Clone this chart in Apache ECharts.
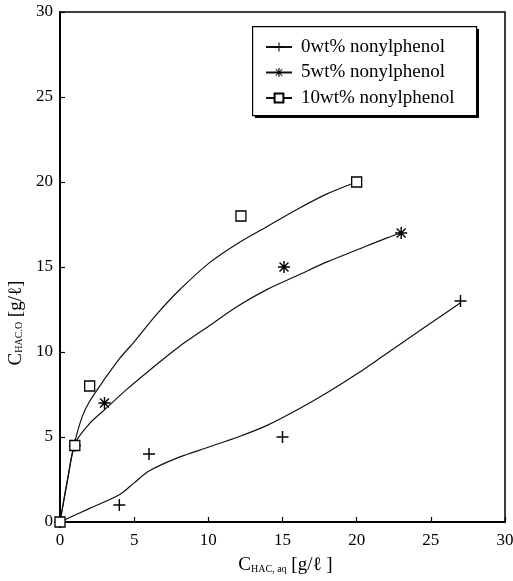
<!DOCTYPE html>
<html>
<head>
<meta charset="utf-8">
<script src="https://cdn.jsdelivr.net/npm/echarts@6/dist/echarts.min.js"></script>
<style>
  html, body { margin: 0; padding: 0; background: #fff; overflow: hidden; }
  #chart { width: 513px; height: 581px; }
</style>
</head>
<body>
<div id="chart"></div>
<script>
// Series names
const seriesNames = ['0wt% nonylphenol', '5wt% nonylphenol', '10wt% nonylphenol'];

// Measured points [C_HAC,aq, C_HAC,O]
const points0 = [[0, 0], [4, 1], [6, 4], [15, 5], [27, 13]];
const points5 = [[0, 0], [1, 4.5], [3, 7], [15.1, 15], [23, 17]];
const points10 = [[0, 0], [1, 4.5], [2, 8], [12.2, 18], [20, 20]];

// Fitted trend curves
const curve0 = [[0, 0], [2, 0.8], [4, 1.6], [5, 2.3], [6, 3.0], [8, 3.8], [10, 4.4], [12, 5.0],
  [14, 5.7], [16, 6.6], [18, 7.6], [20, 8.7], [22, 9.9], [24, 11.1], [26, 12.3], [27, 12.9]];
const curve5 = [[0, 0], [0.5, 2.4], [1, 4.6], [2, 5.8], [3, 6.6], [4.5, 7.8], [6, 8.9], [8, 10.3],
  [10, 11.5], [12, 12.7], [14, 13.7], [16, 14.5], [18, 15.3], [20, 16.0], [22, 16.7], [23, 17]];
const curve10 = [[0, 0], [0.5, 2.5], [1, 4.7], [1.5, 6.2], [2, 7.1], [3, 8.4], [4, 9.6], [5, 10.6],
  [6.5, 12.2], [8, 13.6], [10, 15.2], [12, 16.4], [14, 17.4], [16, 18.4], [18, 19.3], [20, 20]];

// Axis ticks
const xTicks = [0, 5, 10, 15, 20, 25, 30];
const yTicks = [0, 5, 10, 15, 20, 25, 30];

const SERIF = '"Liberation Serif", "DejaVu Serif", serif';

const plusSymbol = 'path://M4.4,0H5.6V10H4.4Z M0,4.4H10V5.6H0Z';
const starSymbol = 'path://M4.4,0H5.6V10H4.4Z M0,4.4H10V5.6H0Z M0.9,1.7L1.7,0.9L9.1,8.3L8.3,9.1Z M8.3,0.9L9.1,1.7L1.7,9.1L0.9,8.3Z';

const groups = [
  { name: seriesNames[0], pts: points0, curve: curve0, symbol: plusSymbol, size: 12,
    item: { color: '#000', opacity: 1 } },
  { name: seriesNames[1], pts: points5, curve: curve5, symbol: starSymbol, size: 12,
    item: { color: '#000', opacity: 1 } },
  { name: seriesNames[2], pts: points10, curve: curve10, symbol: 'rect', size: 10,
    item: { color: '#fff', borderColor: '#000', borderWidth: 1.3, opacity: 1 } }
];

const series = [];
groups.forEach(g => {
  series.push({
    name: g.name, type: 'line', data: g.curve, smooth: 0.3,
    symbol: g.symbol, symbolSize: g.size, showSymbol: false,
    itemStyle: g.item,
    lineStyle: { color: '#111', width: 1.2 },
    emphasis: { disabled: true }, silent: true, z: 2
  });
});
groups.forEach(g => {
  series.push({
    name: g.name, type: 'scatter', data: g.pts,
    symbol: g.symbol, symbolSize: g.size,
    itemStyle: g.item, z: 3, silent: true
  });
});

const chart = echarts.init(document.getElementById('chart'), null, { renderer: 'canvas' });
chart.setOption({
  animation: false,
  backgroundColor: '#fff',
  grid: {
    left: 60, right: 8, top: 12, bottom: 59,
    containLabel: false, outerBoundsMode: 'none',
    show: true, borderColor: '#000', borderWidth: 1.5
  },
  // legend frame with a drop shadow on its lower right
  graphic: [
    { type: 'rect', left: 255, top: 29, z: 10, silent: true,
      shape: { width: 224, height: 89 }, style: { fill: '#000' } },
    { type: 'rect', left: 252, top: 26, z: 11, silent: true,
      shape: { width: 224, height: 89 }, style: { fill: '#fff', stroke: '#000', lineWidth: 1.2 } }
  ],
  legend: {
    orient: 'vertical',
    left: 252, top: 26,
    z: 20,
    padding: [11, 10, 9, 13],
    itemGap: 5.5,
    itemWidth: 26, itemHeight: 11,
    textStyle: { fontFamily: SERIF, fontSize: 19, lineHeight: 20, color: '#000', padding: [0, 0, 0, 4] },
    data: seriesNames.map(n => ({ name: n }))
  },
  xAxis: {
    type: 'value', min: xTicks[0], max: xTicks[xTicks.length - 1], interval: 5,
    name: 'C{s|HAC, aq} [g/ℓ ]',
    nameLocation: 'middle', nameGap: 34,
    nameTextStyle: {
      fontFamily: SERIF, fontSize: 19, color: '#000', padding: [0, 0, 0, 6],
      rich: { s: { fontFamily: SERIF, fontSize: 10, color: '#000', padding: [7, 0, 0, 0] } }
    },
    axisLine: { lineStyle: { color: '#000', width: 2 } },
    axisTick: { inside: true, length: 5, lineStyle: { color: '#000', width: 1.2 } },
    axisLabel: { fontFamily: SERIF, fontSize: 17, color: '#000', margin: 10 },
    splitLine: { show: false }
  },
  yAxis: {
    type: 'value', min: yTicks[0], max: yTicks[yTicks.length - 1], interval: 5,
    name: 'C{s|HAC.O} [g/ℓ]',
    nameLocation: 'middle', nameGap: 32,
    nameTextStyle: {
      fontFamily: SERIF, fontSize: 19, color: '#000', padding: [0, 112, 0, 0],
      rich: { s: { fontFamily: SERIF, fontSize: 10, color: '#000', padding: [7, 0, 0, 0] } }
    },
    axisLine: { lineStyle: { color: '#000', width: 2 } },
    axisTick: { inside: true, length: 5, lineStyle: { color: '#000', width: 1.2 } },
    axisLabel: { fontFamily: SERIF, fontSize: 17, color: '#000', margin: 7 },
    splitLine: { show: false }
  },
  series: series
});
</script>
</body>
</html>
